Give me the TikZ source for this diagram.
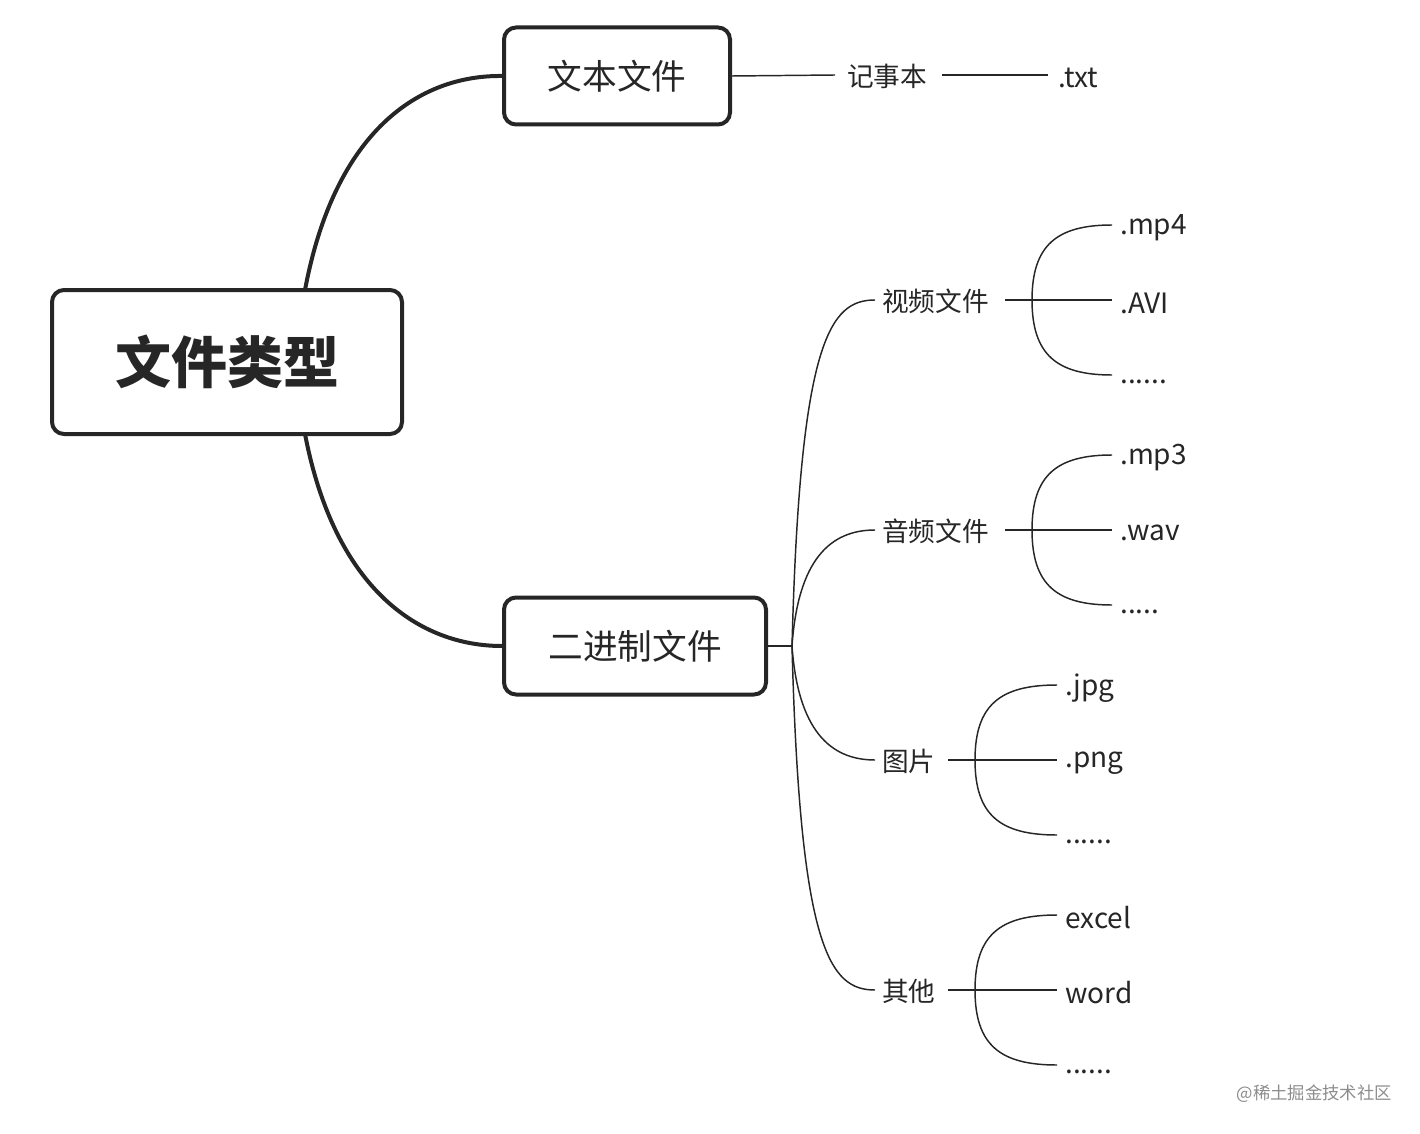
\documentclass[tikz,border=0pt]{standalone}
\usepackage{fontspec}
\setmainfont{Noto Sans CJK SC}
\newcommand{\dsix}{......}
\newcommand{\dfive}{.....}
\begin{document}
\begin{tikzpicture}[x=0.75pt,y=-0.75pt,
  big/.style={draw=black!85,line width=3pt,rounded corners=9pt,align=center,text=black!85},
  thick/.style={draw=black!85,line width=3pt},
  thin/.style={draw=black!85,line width=1.1pt},
  lbl/.style={anchor=west,inner sep=0pt,text=black!85,font=\fontsize{20}{20}\selectfont},
  leaf/.style={anchor=west,inner sep=0pt,text=black!85,font=\fontsize{21}{21}\selectfont}]
\useasboundingbox (0,0) rectangle (1420,1134);
\node[big,minimum width=262.5pt,minimum height=108pt,font=\fontsize{42}{42}\selectfont\bfseries] (root) at (227,362) {文件类型};
\node[big,minimum width=169.5pt,minimum height=72.75pt,font=\fontsize{26}{26}\selectfont] (txt) at (617,76) {文本文件};
\node[big,minimum width=196.5pt,minimum height=72.75pt,font=\fontsize{26}{26}\selectfont] (bin) at (635,646) {二进制文件};
\coordinate (rt) at (305,290); \coordinate (rb) at (305,434);
\draw[thick] (rt) .. controls (335,130) and (420,75) .. (txt.west);
\draw[thick] (rb) .. controls (335,590) and (420,646) .. (bin.west);
\node[lbl] (jsb) at (847,76) {记事本};
\node[leaf] (ttxt) at (1058,78) {.txt};
\draw[thin] (txt.east) -- (835,75);
\draw[thin] (942,75) -- (1048,75);
\coordinate (b0) at (792,646);
\draw[thin] (bin.east) -- (b0);
\node[lbl] (vid) at (882,301) {视频文件};
\node[lbl] (aud) at (882,531) {音频文件};
\node[lbl] (img) at (882,761) {图片};
\node[lbl] (oth) at (882,991) {其他};
\draw[thin] (b0) .. controls (800,340) and (830,300) .. (875,300);
\draw[thin] (b0) .. controls (798,560) and (830,530) .. (875,530);
\draw[thin] (b0) .. controls (798,730) and (830,760) .. (875,760);
\draw[thin] (b0) .. controls (800,950) and (830,990) .. (875,990);
\foreach \y/\bx/\sx/\ex/\a/\b/\c [count=\i] in
  {300/1032/1005/1112/.mp4/.AVI/\dsix,
   530/1032/1005/1112/.mp3/.wav/\dfive,
   760/975/948/1057/.jpg/.png/\dsix,
   990/975/948/1057/excel/word/\dsix}{
  \coordinate (p\i) at (\bx,\y);
  \draw[thin] (\sx,\y) -- (\ex,\y);
  \draw[thin] (p\i) .. controls (\bx,\y-55) and (\bx+25,\y-75) .. (\ex,\y-75);
  \draw[thin] (p\i) .. controls (\bx,\y+55) and (\bx+25,\y+75) .. (\ex,\y+75);
  \node[leaf] (la\i) at (\ex+8,\y-72) {\a};
  \node[leaf] (lb\i) at (\ex+8,\y+3) {\b};
  \node[leaf] (lc\i) at (\ex+8,\y+82) {\c};
}
\node[anchor=east,inner sep=0pt,text=black!45,font=\fontsize{13}{13}\selectfont] (wm) at (1392,1094) {@稀土掘金技术社区};
\end{tikzpicture}
\end{document}
